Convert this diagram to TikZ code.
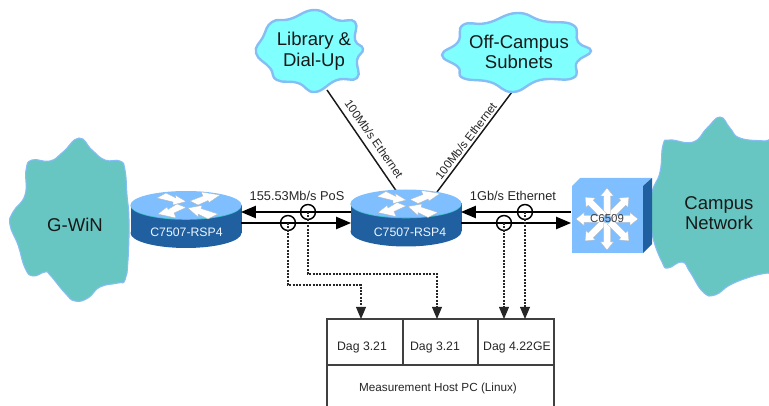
\documentclass[tikz,border=0pt]{standalone}
\usepackage{fontspec}
\setmainfont{Liberation Sans}
\usetikzlibrary{arrows}
\definecolor{rtrtop}{HTML}{80BFFF}
\definecolor{rtrside}{HTML}{2060A0}
\definecolor{rtrrim}{HTML}{40C0C8}
\definecolor{cloudsea}{HTML}{68C6C2}
\definecolor{cloudsky}{HTML}{80FFFF}
\definecolor{cloudedge}{HTML}{85BDF5}
\tikzset{
	bigtext/.style={align=center,font=\fontsize{13.9}{15.4}\selectfont,text=black!90},
	smalltext/.style={font=\fontsize{9.2}{11}\selectfont,text=black!85},
	speedtext/.style={font=\fontsize{9.6}{11}\selectfont,text=black!85},
	hosttext/.style={font=\fontsize{8.8}{11}\selectfont,text=black!85},
	rtrtext/.style={font=\fontsize{9.2}{11}\selectfont,text=white!85!rtrtop},
	linktext/.style={font=\fontsize{8.8}{11}\selectfont,text=black!85,inner sep=0pt},
	link/.style={line width=1.6pt,->},
	uplink/.style={line width=1.1pt,black!90},
	tap/.style={circle,draw,line width=1.1pt,minimum size=11.2pt,inner sep=0pt},
	probe/.style={line width=1.1pt,dash pattern=on 1.5pt off 1pt,black!85,->},
	hostline/.style={line width=1.1pt,black!75},
	whitearrow/.style={fill=white,draw=black!30,line width=0.2pt}
}
% router drawn around the middle of its top face
\newcommand{\drawrouter}[2]{
	\begin{scope}[shift={(#1,#2)}]
		\fill[rtrside] (-55.5,0) rectangle (55.5,28);
		\fill[rtrside] (0,28) ellipse (55.5 and 15);
		\fill[rtrrim] (0,0.8) ellipse (55.5 and 14);
		\fill[rtrtop] (0,0) ellipse (55.5 and 14);
		\draw[whitearrow] (-29,-7) -- (-20,-12) -- (-10,-7) -- (-11,-10) -- (0,-3.5) -- (-13,0) -- (-13,-3) -- cycle;
		\draw[whitearrow] (4,-4) -- (12,0) -- (22,-4.5) -- (23,-2.5) -- (34,-10) -- (15,-13) -- (17,-9) -- cycle;
		\draw[whitearrow] (-9,-1) -- (0,2.5) -- (-12,8) -- (-10,13) -- (-28,9) -- (-19,2) -- (-18,4.5) -- cycle;
		\draw[whitearrow] (32,9) -- (22,14) -- (12,9) -- (12,12) -- (2,3) -- (16,0.5) -- (15,3.5) -- cycle;
	\end{scope}
}

\begin{document}
\begin{tikzpicture}[>=triangle 45,x=0.75pt,y=-0.75pt]
\clip (0,0) rectangle (769,406);

% end points of the connectors
\coordinate (libEnd) at (327,90);
\coordinate (libRtr) at (397,192);
\coordinate (offEnd) at (512,92);
\coordinate (offRtr) at (437,192);
\coordinate (rtrAup) at (241,212);
\coordinate (rtrAdown) at (241,223);
\coordinate (rtrBleftup) at (351,212);
\coordinate (rtrBleftdown) at (351,223);
\coordinate (rtrBrightup) at (461,212);
\coordinate (rtrBrightdown) at (461,223);
\coordinate (swup) at (571,212);
\coordinate (swdown) at (571,223);
\coordinate (dagAin) at (361,319);
\coordinate (dagBin) at (437,319);
\coordinate (dagCinA) at (504,319);
\coordinate (dagCinB) at (525,319);

\draw[uplink] (libEnd) -- (libRtr);
\draw[uplink] (offEnd) -- (offRtr);

% clouds
\draw[fill=cloudsky,draw=cloudedge,line width=1.8pt] plot [smooth cycle,tension=0.8] coordinates {(256,53) (263,37) (272,22) (290,19) (315,10) (337,20) (355,22) (355,40) (363,49) (357,60) (357,78) (337,80) (315,92) (298,83) (277,80) (270,68)};
\draw[fill=cloudsky,draw=cloudedge,line width=1.8pt] plot [smooth cycle,tension=0.8] coordinates {(442,55) (458,42) (463,25) (487,23) (517,13) (543,21) (573,25) (578,42) (591,51) (577,62) (573,78) (540,80) (513,92) (490,82) (463,78) (458,67)};
\draw[fill=cloudsea,draw=cloudedge,line width=0.8pt] plot [smooth cycle,tension=0.8] coordinates {(79,138) (92,150) (105,160) (120,161) (125,170) (127,195) (129,220) (128,260) (125,280) (118,283) (100,287) (88,298) (75,301) (65,293) (50,275) (45,272) (33,276) (25,268) (18,245) (10,225) (13,212) (25,195) (26,170) (32,160) (50,161) (63,152)};
\draw[fill=cloudsea,draw=cloudedge,line width=0.8pt] plot [smooth cycle,tension=0.8] coordinates {(720,117) (730,128) (740,138) (765,141) (785,142) (785,272) (768,273) (750,277) (730,285) (715,295) (703,292) (690,272) (682,262) (668,268) (662,262) (653,238) (650,215) (652,192) (660,172) (663,145) (670,140) (693,142) (707,128)};

\node[bigtext] (lib) at (314,51) {Library \&\\Dial-Up};
\node[bigtext] (off) at (519,52) {Off-Campus\\Subnets};
\node[bigtext] (gwin) at (75,225) {G-WiN};
\node[bigtext] (campus) at (719,213) {Campus\\Network};

\drawrouter{186}{205}
\drawrouter{406}{203.5}
\node[rtrtext] (rtrA) at (186.5,232.5) {C7507-RSP4};
\node[rtrtext] (rtrB) at (410,232.5) {C7507-RSP4};

% switch
\fill[rtrtop] (572,186) -- (580,178) -- (652,178) -- (643,186) -- cycle;
\fill[rtrside] (643,186) -- (652,178) -- (652,244) -- (643,253) -- cycle;
\fill[rtrtop] (572,186) rectangle (643,253);
\foreach \a in {0,45,...,315} {
	\draw[whitearrow,shift={(607,219)},rotate=\a] (4,-3.5) -- (23,-3.5) -- (23,-6.5) -- (31,0) -- (23,6.5) -- (23,3.5) -- (4,3.5) -- cycle;
}
\node[font=\fontsize{8.6}{10}\selectfont,text=black!75,inner sep=0pt] (sw) at (607,219) {C6509};

% links
\draw[link] (rtrBleftup) -- (rtrAup);
\draw[link] (rtrAdown) -- (rtrBleftdown);
\draw[link] (swup) -- (rtrBrightup);
\draw[link] (rtrBrightdown) -- (swdown);

\node[speedtext] (pos) at (297,196) {155.53Mb/s PoS};
\node[speedtext] (eth) at (513,196) {1Gb/s Ethernet};
\node[linktext,rotate=-55] (libLab) at (374,139) {100Mb/s Ethernet};
\node[linktext,rotate=52.6] (offLab) at (466,141) {100Mb/s Ethernet};

% measurement host
\draw[hostline] (327,407) -- (327,319) -- (554,319) -- (554,407);
\draw[hostline] (327,365) -- (554,365);
\draw[hostline] (403,319) -- (403,365);
\draw[hostline] (478,319) -- (478,365);
\node[smalltext] (dagA) at (362,347) {Dag 3.21};
\node[smalltext] (dagB) at (435,347) {Dag 3.21};
\node[smalltext] (dagC) at (517,347) {Dag 4.22GE};
\node[hosttext] (host) at (438,388) {Measurement Host PC (Linux)};

% taps and their probes
\node[tap] (tapA) at (288,223) {};
\node[tap] (tapB) at (308,212) {};
\node[tap] (tapC) at (504,223) {};
\node[tap] (tapD) at (525,212) {};
\draw[probe] (tapA.center) -- (288,285) -| (dagAin);
\draw[probe] (tapB.center) -- (308,274) -| (dagBin);
\draw[probe] (tapC.center) -- (dagCinA);
\draw[probe] (tapD.center) -- (dagCinB);

\end{tikzpicture}
\end{document}
